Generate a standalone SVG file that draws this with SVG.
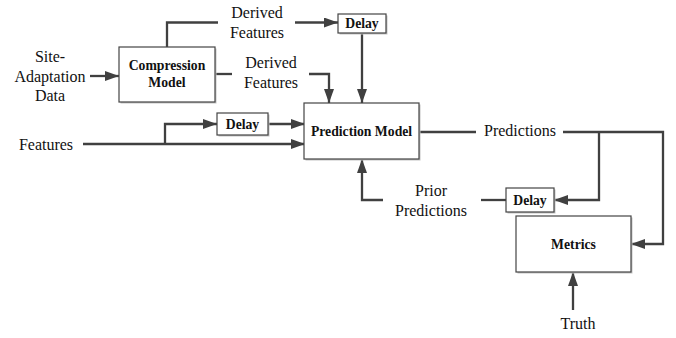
<svg xmlns="http://www.w3.org/2000/svg" width="676" height="338" viewBox="0 0 676 338">
<style>
.box{fill:#fff;stroke:#444;stroke-width:1.2}
.sh{fill:#c4c4c4}
.bl{font-family:"Liberation Serif","Times New Roman",serif;font-weight:bold;font-size:13.7px;fill:#111;text-anchor:middle;dominant-baseline:central}
.lb{font-family:"Liberation Serif","Times New Roman",serif;font-size:16px;fill:#111;text-anchor:middle;dominant-baseline:central}
.ln{fill:none;stroke:#404040;stroke-width:2.3}
</style>
<defs>
<marker id="ah" markerUnits="userSpaceOnUse" markerWidth="15" markerHeight="11" refX="14" refY="5" orient="auto">
<path d="M0,0 L14,5 L0,10 z" fill="#404040"/>
</marker>
</defs>
<rect width="676" height="338" fill="#fff"/>
<g id="connectors">
<path class="ln" d="M90,76 H119" marker-end="url(#ah)"/>
<path class="ln" d="M167,47 V22.5 H218"/>
<path class="ln" d="M295,22.5 H338" marker-end="url(#ah)"/>
<path class="ln" d="M362,33 V103" marker-end="url(#ah)"/>
<path class="ln" d="M215,74 H232"/>
<path class="ln" d="M309,74 H329 V103" marker-end="url(#ah)"/>
<path class="ln" d="M83,144 H305" marker-end="url(#ah)"/>
<path class="ln" d="M165,144 V124 H217" marker-end="url(#ah)"/>
<path class="ln" d="M268,124 H305" marker-end="url(#ah)"/>
<path class="ln" d="M419,132 H476"/>
<path class="ln" d="M563,132 H663 V244 H631" marker-end="url(#ah)"/>
<path class="ln" d="M599,132 V200 H554" marker-end="url(#ah)"/>
<path class="ln" d="M506,200 H481"/>
<path class="ln" d="M383,200 H362 V159" marker-end="url(#ah)"/>
<path class="ln" d="M573,310 V272" marker-end="url(#ah)"/>
</g>
<g id="labels">
<text class="lb" x="50" y="56">Site-</text>
<text class="lb" x="50" y="76">Adaptation</text>
<text class="lb" x="50" y="95">Data</text>
<text class="lb" x="257" y="12">Derived</text>
<text class="lb" x="257" y="32">Features</text>
<text class="lb" x="271" y="62">Derived</text>
<text class="lb" x="271" y="82">Features</text>
<text class="lb" x="46" y="144">Features</text>
<text class="lb" x="520" y="130">Predictions</text>
<text class="lb" x="431" y="190">Prior</text>
<text class="lb" x="431" y="210">Predictions</text>
<text class="lb" x="578" y="323">Truth</text>
</g>
<g id="compression">
<rect class="sh" x="120.5" y="48.5" width="96" height="55"/>
<rect class="box" x="119" y="47" width="96" height="55"/>
<text class="bl" x="167" y="65">Compression</text>
<text class="bl" x="167" y="82">Model</text>
</g>
<g id="delay1">
<rect class="sh" x="339.5" y="15.5" width="48" height="19"/>
<rect class="box" x="338" y="14" width="48" height="19"/>
<text class="bl" x="362" y="23.5">Delay</text>
</g>
<g id="delay2">
<rect class="sh" x="218.5" y="114.5" width="51" height="22"/>
<rect class="box" x="217" y="113" width="51" height="22"/>
<text class="bl" x="242.5" y="124">Delay</text>
</g>
<g id="prediction">
<rect class="sh" x="305.5" y="104.5" width="115" height="56"/>
<rect class="box" x="304" y="103" width="115" height="56"/>
<text class="bl" x="361.5" y="131">Prediction Model</text>
</g>
<g id="delay3">
<rect class="sh" x="507.5" y="189.5" width="48" height="24"/>
<rect class="box" x="506" y="188" width="48" height="24"/>
<text class="bl" x="530" y="200">Delay</text>
</g>
<g id="metrics">
<rect class="sh" x="517.5" y="217.5" width="115" height="56"/>
<rect class="box" x="516" y="216" width="115" height="56"/>
<text class="bl" x="573.5" y="244">Metrics</text>
</g>
</svg>
